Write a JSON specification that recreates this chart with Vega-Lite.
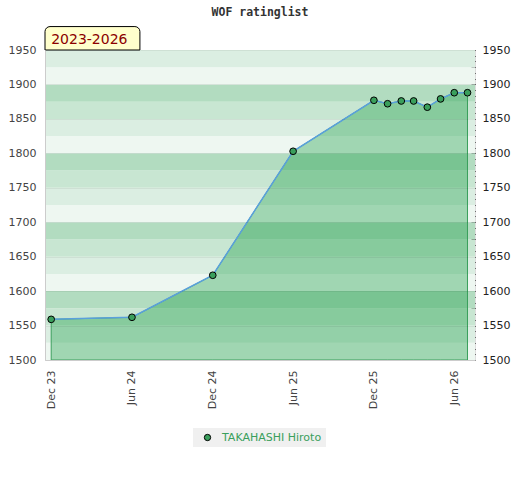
{
  "$schema": "https://vega.github.io/schema/vega-lite/v6.json",
  "autosize": {"type": "none"},
  "padding": {"left": 45, "top": 50, "right": 45, "bottom": 120},
  "width": 430,
  "height": 310,
  "background": "white",
  "title": {
    "text": "WOF ratinglist",
    "font": "DejaVu Sans Mono",
    "fontSize": 11.5,
    "fontWeight": "bold",
    "color": "#333333",
    "anchor": "middle",
    "offset": 8
  },
  "config": {
    "view": {"stroke": "#dddddd"},
    "axis": {"labelFont": "DejaVu Sans", "labelFontSize": 11}
  },
  "datasets": {
    "ratings": [
      {"date": "2023-12-01", "rating": 1559, "player": "TAKAHASHI Hiroto"},
      {"date": "2024-06-01", "rating": 1562, "player": "TAKAHASHI Hiroto"},
      {"date": "2024-12-01", "rating": 1623, "player": "TAKAHASHI Hiroto"},
      {"date": "2025-06-01", "rating": 1803, "player": "TAKAHASHI Hiroto"},
      {"date": "2025-12-01", "rating": 1877, "player": "TAKAHASHI Hiroto"},
      {"date": "2026-01-01", "rating": 1872, "player": "TAKAHASHI Hiroto"},
      {"date": "2026-02-01", "rating": 1876, "player": "TAKAHASHI Hiroto"},
      {"date": "2026-03-01", "rating": 1876, "player": "TAKAHASHI Hiroto"},
      {"date": "2026-04-01", "rating": 1867, "player": "TAKAHASHI Hiroto"},
      {"date": "2026-05-01", "rating": 1879, "player": "TAKAHASHI Hiroto"},
      {"date": "2026-06-01", "rating": 1888, "player": "TAKAHASHI Hiroto"},
      {"date": "2026-07-01", "rating": 1888, "player": "TAKAHASHI Hiroto"}
    ],
    "bands": [
      {"lo": 1500, "hi": 1525, "tier": "t4"},
      {"lo": 1525, "hi": 1550, "tier": "t3"},
      {"lo": 1550, "hi": 1575, "tier": "t2"},
      {"lo": 1575, "hi": 1600, "tier": "t1"},
      {"lo": 1600, "hi": 1625, "tier": "t4"},
      {"lo": 1625, "hi": 1650, "tier": "t3"},
      {"lo": 1650, "hi": 1675, "tier": "t2"},
      {"lo": 1675, "hi": 1700, "tier": "t1"},
      {"lo": 1700, "hi": 1725, "tier": "t4"},
      {"lo": 1725, "hi": 1750, "tier": "t3"},
      {"lo": 1750, "hi": 1775, "tier": "t2"},
      {"lo": 1775, "hi": 1800, "tier": "t1"},
      {"lo": 1800, "hi": 1825, "tier": "t4"},
      {"lo": 1825, "hi": 1850, "tier": "t3"},
      {"lo": 1850, "hi": 1875, "tier": "t2"},
      {"lo": 1875, "hi": 1900, "tier": "t1"},
      {"lo": 1900, "hi": 1925, "tier": "t4"},
      {"lo": 1925, "hi": 1950, "tier": "t3"}
    ]
  },
  "resolve": {"scale": {"color": "independent"}, "axis": {"y": "independent"}},
  "layer": [
    {
      "data": {"name": "bands"},
      "mark": {"type": "rect"},
      "encoding": {
        "y": {
          "field": "lo", "type": "quantitative",
          "scale": {"domain": [1500, 1950], "zero": false, "nice": false},
          "axis": {
            "orient": "left", "title": null, "format": "d",
            "values": [1500, 1550, 1600, 1650, 1700, 1750, 1800, 1850, 1900, 1950],
            "ticks": false, "domainColor": "#cccccc", "labelColor": "#444444",
            "labelPadding": 9, "grid": true, "gridColor": "#000000", "gridOpacity": 0.06,
            "zindex": 1
          }
        },
        "y2": {"field": "hi"},
        "color": {
          "field": "tier", "type": "nominal", "legend": null,
          "scale": {"domain": ["t1", "t2", "t3", "t4"], "range": ["#b2dcc0", "#c8e6d2", "#dbeee2", "#eef7f1"]}
        }
      }
    },
    {
      "data": {"name": "ratings"},
      "mark": {"type": "area", "fill": "#0f973c", "fillOpacity": 0.35, "stroke": "#3a9f5c", "strokeWidth": 1},
      "encoding": {
        "x": {
          "field": "date", "type": "temporal",
          "scale": {"type": "utc", "domain": [{"year": 2023, "month": 11, "date": 17, "utc": true}, {"year": 2026, "month": 7, "date": 18, "utc": true}]},
          "axis": {
            "title": null, "format": "%b %y", "labelAngle": 270, "ticks": false, "grid": false,
            "domainColor": "#cccccc", "labelColor": "#444444", "labelPadding": 10, "zindex": 1,
            "values": [1701388800000, 1717200000000, 1733011200000, 1748736000000, 1764547200000, 1780272000000]
          }
        },
        "y": {
          "field": "rating", "type": "quantitative",
          "scale": {"domain": [1500, 1950], "zero": false, "nice": false},
          "axis": null
        },
        "y2": {"datum": 1500}
      }
    },
    {
      "data": {"name": "ratings"},
      "mark": {"type": "line", "color": "#5aa0dc", "strokeWidth": 1.5},
      "encoding": {
        "x": {"field": "date", "type": "temporal"},
        "y": {
          "field": "rating", "type": "quantitative",
          "scale": {"domain": [1500, 1950], "zero": false, "nice": false},
          "axis": null
        }
      }
    },
    {
      "data": {"name": "ratings"},
      "mark": {"type": "point", "filled": true, "size": 45, "stroke": "#000000", "strokeWidth": 1, "opacity": 1},
      "encoding": {
        "x": {"field": "date", "type": "temporal"},
        "y": {
          "field": "rating", "type": "quantitative",
          "scale": {"domain": [1500, 1950], "zero": false, "nice": false},
          "axis": {
            "orient": "right", "title": null, "grid": false, "domain": false,
            "values": [1500, 1508.333, 1516.667, 1525, 1533.333, 1541.667,
                       1550, 1558.333, 1566.667, 1575, 1583.333, 1591.667,
                       1600, 1608.333, 1616.667, 1625, 1633.333, 1641.667,
                       1650, 1658.333, 1666.667, 1675, 1683.333, 1691.667,
                       1700, 1708.333, 1716.667, 1725, 1733.333, 1741.667,
                       1750, 1758.333, 1766.667, 1775, 1783.333, 1791.667,
                       1800, 1808.333, 1816.667, 1825, 1833.333, 1841.667,
                       1850, 1858.333, 1866.667, 1875, 1883.333, 1891.667,
                       1900, 1908.333, 1916.667, 1925, 1933.333, 1941.667, 1950],
            "labelExpr": "datum.value % 50 === 0 ? format(datum.value, 'd') : ''",
            "tickSize": 4, "tickColor": "#000000", "offset": -4,
            "labelColor": "#222222", "labelPadding": 7
          }
        },
        "color": {
          "field": "player", "type": "nominal",
          "scale": {"range": ["#3a9f5c"]},
          "legend": {
            "orient": "none", "legendX": 148, "legendY": 378, "title": null,
            "fillColor": "#f0f0f0", "padding": 4, "symbolOffset": 5, "labelOffset": 9,
            "labelColor": "#3a9f5c", "labelFont": "DejaVu Sans", "labelFontSize": 11,
            "symbolType": "circle", "symbolSize": 40,
            "symbolFillColor": "#3a9f5c", "symbolStrokeColor": "#000000", "symbolStrokeWidth": 1
          }
        }
      }
    },
    {
      "data": {"values": [{}]},
      "mark": {"type": "rect", "fill": "#ffffcc", "stroke": "#000000", "strokeWidth": 1, "cornerRadiusTopLeft": 5, "cornerRadiusTopRight": 5},
      "encoding": {
        "x": {"datum": {"year": 2023, "month": 11, "date": 17, "utc": true}, "type": "temporal"},
        "x2": {"datum": {"year": 2024, "month": 6, "date": 19, "utc": true}},
        "y": {
          "datum": 1950, "type": "quantitative",
          "scale": {"domain": [1500, 1950], "zero": false, "nice": false},
          "axis": null
        },
        "y2": {"datum": 1984}
      }
    },
    {
      "data": {"values": [{}]},
      "mark": {"type": "text", "text": "2023-2026", "align": "left", "baseline": "middle", "font": "DejaVu Sans", "fontSize": 14, "color": "#8b0000"},
      "encoding": {
        "x": {"datum": {"year": 2023, "month": 12, "date": 1, "utc": true}, "type": "temporal"},
        "y": {
          "datum": 1965, "type": "quantitative",
          "scale": {"domain": [1500, 1950], "zero": false, "nice": false},
          "axis": null
        }
      }
    }
  ]
}
